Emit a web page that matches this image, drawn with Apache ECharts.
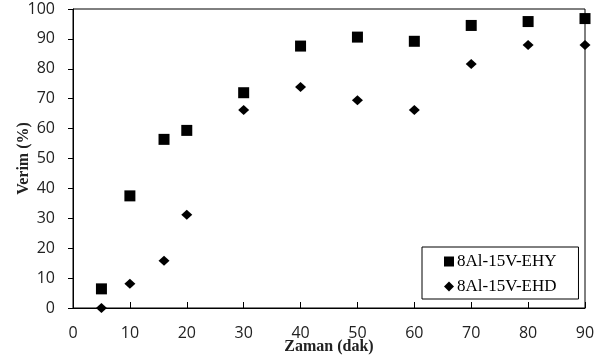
<!DOCTYPE html>
<html>
<head>
<meta charset="utf-8">
<script src="https://cdn.jsdelivr.net/npm/echarts@6/dist/echarts.min.js"></script>
<style>
  html, body { margin: 0; padding: 0; background: #fff; }
  #chart { width: 602px; height: 363px; }
</style>
</head>
<body>
<div id="chart"></div>
<script>
// zaman (dak)
var times = [5, 10, 16, 20, 30, 40, 50, 60, 70, 80, 90];
// verim (%)
var ehy = [6.4, 37.5, 56.4, 59.4, 72.0, 87.6, 90.6, 89.2, 94.5, 95.8, 96.8];
var ehd = [0, 8.1, 15.8, 31.2, 66.2, 73.9, 69.5, 66.2, 81.6, 88.0, 88.0];
var xTicks = [0, 10, 20, 30, 40, 50, 60, 70, 80, 90];
var yTicks = [0, 10, 20, 30, 40, 50, 60, 70, 80, 90, 100];

function pairs(xs, ys) {
    var out = [];
    for (var i = 0; i < xs.length; i++) {
        out.push([xs[i], ys[i]]);
    }
    return out;
}

var myChart = echarts.init(document.getElementById('chart'), null, { renderer: 'canvas' });

var labelFont = { fontFamily: 'Open Sans', fontSize: 16, color: '#222' };
var nameFont = { fontFamily: 'Liberation Serif', fontWeight: 'bold', fontSize: 16, color: '#222' };

var option = {
    animation: false,
    grid: {
        left: 73, right: 17, top: 9, bottom: 55,
        containLabel: false,
        outerBoundsMode: 'none',
        show: true,
        borderColor: '#000',
        borderWidth: 1
    },
    legend: {
        orient: 'vertical',
        left: 422,
        top: 247,
        itemWidth: 10,
        itemHeight: 10,
        itemGap: 8,
        padding: [6, 22, 4, 22],
        borderColor: '#000',
        borderWidth: 1,
        backgroundColor: '#fff',
        textStyle: { fontFamily: 'Liberation Serif', fontSize: 17, color: '#000', padding: [0, 0, 0, -2] },
        data: ['8Al-15V-EHY', '8Al-15V-EHD']
    },
    xAxis: {
        type: 'value',
        min: xTicks[0],
        max: xTicks[xTicks.length - 1],
        interval: 10,
        name: 'Zaman (dak)',
        nameLocation: 'middle',
        nameGap: 31,
        nameMoveOverlap: false,
        nameTextStyle: nameFont,
        axisLine: { lineStyle: { color: '#000', width: 1 } },
        axisTick: { inside: true, length: 6, lineStyle: { color: '#000' } },
        axisLabel: Object.assign({ margin: 17 }, labelFont),
        splitLine: { show: false }
    },
    yAxis: {
        type: 'value',
        min: yTicks[0],
        max: yTicks[yTicks.length - 1],
        interval: 10,
        name: 'Verim (%)',
        nameLocation: 'middle',
        nameGap: 41,
        nameRotate: 90,
        nameMoveOverlap: false,
        nameTextStyle: nameFont,
        axisLine: { show: true, lineStyle: { color: '#000', width: 1 } },
        axisTick: { show: true, inside: false, length: 5, lineStyle: { color: '#000' } },
        axisLabel: Object.assign({ margin: 18 }, labelFont),
        splitLine: { show: false }
    },
    series: [
        {
            name: '8Al-15V-EHY',
            type: 'scatter',
            symbol: 'rect',
            symbolSize: 11,
            itemStyle: { color: '#000', opacity: 1 },
            data: pairs(times, ehy)
        },
        {
            name: '8Al-15V-EHD',
            type: 'scatter',
            symbol: 'diamond',
            symbolSize: [11, 10],
            itemStyle: { color: '#000', opacity: 1 },
            data: pairs(times, ehd)
        }
    ]
};

myChart.setOption(option);
</script>
</body>
</html>
